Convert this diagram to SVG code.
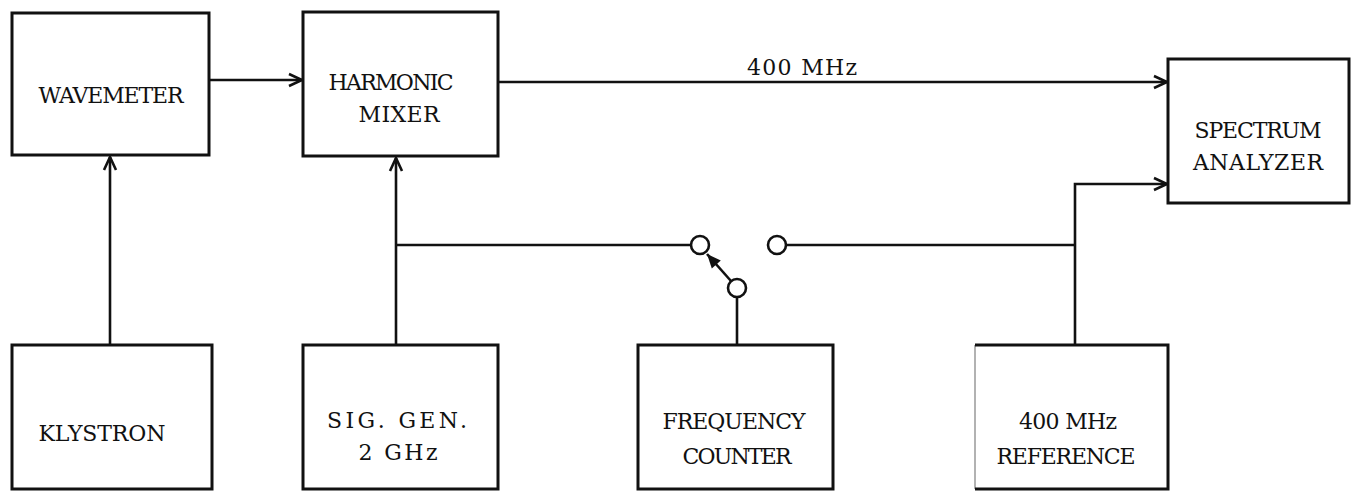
<svg xmlns="http://www.w3.org/2000/svg" width="1352" height="491" viewBox="0 0 1352 491">
<defs>
<style>
.box{fill:none;stroke:#111;stroke-width:3}
.ln{fill:none;stroke:#111;stroke-width:2.6}
.t{font-family:"DejaVu Serif","Liberation Serif",serif;font-size:22px;fill:#111;text-anchor:middle}
.ct{fill:#fff;stroke:#111;stroke-width:2.6}
</style>
<marker id="open" markerUnits="userSpaceOnUse" markerWidth="16" markerHeight="16" viewBox="0 0 16 16" refX="14" refY="8" orient="auto">
<path d="M1,2 L14,8 L1,14" fill="none" stroke="#111" stroke-width="2.6"/>
</marker>
<marker id="solid" markerUnits="userSpaceOnUse" markerWidth="16" markerHeight="16" viewBox="0 0 16 16" refX="15" refY="8" orient="auto">
<path d="M1,2 L15,8 L1,14 z" fill="#111"/>
</marker>
</defs>
<rect width="1352" height="491" fill="#fff"/>

<g id="connectors">
<line class="ln" x1="110" y1="345" x2="110" y2="157" marker-end="url(#open)"/>
<line class="ln" x1="209" y1="80" x2="302" y2="80" marker-end="url(#open)"/>
<line class="ln" x1="396" y1="345" x2="396" y2="158" marker-end="url(#open)"/>
<line class="ln" x1="498" y1="82" x2="1167" y2="82" marker-end="url(#open)"/>
<text class="t" x="802" y="75" textLength="110" lengthAdjust="spacing">400 MHz</text>
<line class="ln" x1="396" y1="245" x2="691" y2="245"/>
<line class="ln" x1="786" y1="245" x2="1075" y2="245"/>
<polyline class="ln" points="1075,345 1075,184 1167,184" marker-end="url(#open)"/>
<line class="ln" x1="737" y1="297" x2="737" y2="345"/>
<line class="ln" x1="731" y1="281" x2="707" y2="254" marker-end="url(#solid)"/>
<circle class="ct" cx="700" cy="245" r="9"/>
<circle class="ct" cx="777" cy="245" r="9"/>
<circle class="ct" cx="737" cy="288" r="9"/>
</g>

<g id="wavemeter">
<rect class="box" x="12" y="13" width="197" height="142"/>
<text class="t" x="111" y="103" textLength="145" lengthAdjust="spacing">WAVEMETER</text>
</g>
<g id="harmonic-mixer">
<rect class="box" x="303" y="12" width="195" height="144"/>
<text class="t" x="391" y="90" textLength="125" lengthAdjust="spacing">HARMONIC</text>
<text class="t" x="399" y="122" textLength="81" lengthAdjust="spacing">MIXER</text>
</g>
<g id="spectrum-analyzer">
<rect class="box" x="1168" y="59" width="181" height="144"/>
<text class="t" x="1258" y="138" textLength="127" lengthAdjust="spacing">SPECTRUM</text>
<text class="t" x="1258" y="170" textLength="130" lengthAdjust="spacing">ANALYZER</text>
</g>
<g id="klystron">
<rect class="box" x="12" y="345" width="200" height="144"/>
<text class="t" x="102" y="441" textLength="127" lengthAdjust="spacing">KLYSTRON</text>
</g>
<g id="sig-gen">
<rect class="box" x="303" y="345" width="195" height="144"/>
<text class="t" x="397" y="428" textLength="140" lengthAdjust="spacing">SIG. GEN.</text>
<text class="t" x="398" y="460" textLength="79" lengthAdjust="spacing">2 GHz</text>
</g>
<g id="frequency-counter">
<rect class="box" x="638" y="345" width="195" height="144"/>
<text class="t" x="734" y="429" textLength="143" lengthAdjust="spacing">FREQUENCY</text>
<text class="t" x="737" y="464" textLength="109" lengthAdjust="spacing">COUNTER</text>
</g>
<g id="reference">
<line x1="975" y1="345" x2="975" y2="489" stroke="#999" stroke-width="1.5"/>
<polyline class="box" points="975,345 1168,345 1168,489 975,489"/>
<text class="t" x="1068" y="429" textLength="98" lengthAdjust="spacing">400 MHz</text>
<text class="t" x="1066" y="464" textLength="139" lengthAdjust="spacing">REFERENCE</text>
</g>
</svg>
